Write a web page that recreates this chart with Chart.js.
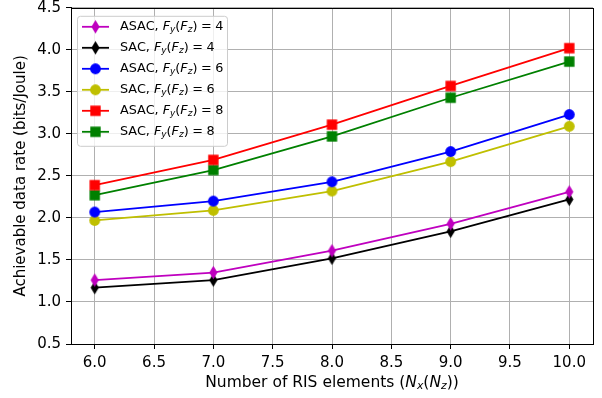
<!DOCTYPE html>
<html>
<head>
<meta charset="utf-8">
<script src="https://cdn.jsdelivr.net/npm/chart.js@4"></script>
<style>
  html, body { margin: 0; padding: 0; background: #fff; }
  #wrap { width: 602px; height: 398px; }
</style>
</head>
<body>
<div id="wrap"><canvas id="rateChart" width="602" height="398"></canvas></div>
<script>
// values
const ris_elements = [6, 7, 8, 9, 10];
const asac_f4 = [1.26, 1.35, 1.61, 1.93, 2.31];
const sac_f4  = [1.17, 1.26, 1.52, 1.84, 2.22];
const asac_f6 = [2.07, 2.20, 2.43, 2.79, 3.23];
const sac_f6  = [1.97, 2.09, 2.32, 2.67, 3.09];
const asac_f8 = [2.39, 2.69, 3.11, 3.57, 4.02];
const sac_f8  = [2.27, 2.57, 2.97, 3.43, 3.86];
const x_ticks = [6, 6.5, 7, 7.5, 8, 8.5, 9, 9.5, 10];
const legend_names = ['ASAC', 'SAC', 'ASAC', 'SAC', 'ASAC', 'SAC'];
const legend_f = ['4', '4', '6', '6', '8', '8'];

const FONT = '"DejaVu Sans", sans-serif';

// marker images (matplotlib-like)
function makeMarker(kind, color) {
    const c = document.createElement('canvas');
    c.width = 15; c.height = 15;
    const g = c.getContext('2d');
    g.fillStyle = color;
    g.beginPath();
    if (kind === 'circle') {
        g.arc(7.5, 7.5, 5.4, 0, Math.PI * 2);
    } else if (kind === 'square') {
        g.rect(2.3, 2.3, 10.4, 10.4);
    } else {
        // thin diamond
        g.moveTo(7.5, 0.8);
        g.lineTo(11.6, 7.5);
        g.lineTo(7.5, 14.2);
        g.lineTo(3.4, 7.5);
        g.closePath();
    }
    g.fill();
    return c;
}

function toPoints(arr) {
    return arr.map((v, i) => ({ x: ris_elements[i], y: v }));
}

const seriesDefs = [
    { data: asac_f4, color: '#bf00bf', marker: 'diamond' },
    { data: sac_f4,  color: '#000000', marker: 'diamond' },
    { data: asac_f6, color: '#0000ff', marker: 'circle' },
    { data: sac_f6,  color: '#bfbf00', marker: 'circle' },
    { data: asac_f8, color: '#ff0000', marker: 'square' },
    { data: sac_f8,  color: '#008000', marker: 'square' }
];

const datasets = seriesDefs.map((s, i) => ({
    label: legend_names[i] + ', Fy(Fz) = ' + legend_f[i],
    data: toPoints(s.data),
    borderColor: s.color,
    backgroundColor: s.color,
    borderWidth: 1.8,
    pointStyle: makeMarker(s.marker, s.color),
    pointRadius: 6,
    pointHoverRadius: 6,
    tension: 0
}));

// draws mathtext-like "F_y(F_z)" pieces, returns end x
function drawMath(ctx, x, y, parts, size) {
    parts.forEach(p => {
        let fs = size, dy = 0;
        if (p.sub) { fs = size * 0.7; dy = size * 0.22; }
        ctx.font = (p.it ? 'italic ' : '') + fs + 'px ' + FONT;
        ctx.fillText(p.t, x, y + dy);
        x += ctx.measureText(p.t).width + (p.gap || 0);
    });
    return x;
}

function measureMath(ctx, parts, size) {
    let w = 0;
    parts.forEach(p => {
        const fs = p.sub ? size * 0.7 : size;
        ctx.font = (p.it ? 'italic ' : '') + fs + 'px ' + FONT;
        w += ctx.measureText(p.t).width + (p.gap || 0);
    });
    return w;
}

function noEdgePadding(scale) {
    scale.paddingTop = 0;
    scale.paddingBottom = 0;
    scale.paddingLeft = 0;
    scale.paddingRight = 0;
}

const framePlugin = {
    id: 'frame',
    afterDraw(chart) {
        const ctx = chart.ctx;
        const a = chart.chartArea;
        ctx.save();
        // box around the plot
        ctx.strokeStyle = '#000';
        ctx.lineWidth = 1;
        ctx.strokeRect(Math.round(a.left) + 0.5, Math.round(a.top) + 0.5,
                       Math.round(a.right - a.left), Math.round(a.bottom - a.top));

        // legend in upper left
        const lx = a.left + 6, ly = a.top + 8, lw = 150, lh = 130;
        ctx.fillStyle = 'rgba(255,255,255,0.8)';
        ctx.strokeStyle = '#cccccc';
        ctx.beginPath();
        ctx.roundRect(lx + 0.5, ly + 0.5, lw, lh, 3);
        ctx.fill();
        ctx.stroke();

        chart.data.datasets.forEach((ds, i) => {
            const yy = ly + 11 + i * 21;
            ctx.strokeStyle = ds.borderColor;
            ctx.lineWidth = 1.8;
            ctx.beginPath();
            ctx.moveTo(lx + 5, yy);
            ctx.lineTo(lx + 32, yy);
            ctx.stroke();
            const img = ds.pointStyle;
            ctx.drawImage(img, lx + 18.5 - img.width / 2, yy - img.height / 2);

            ctx.fillStyle = '#000';
            ctx.textBaseline = 'middle';
            ctx.textAlign = 'left';
            drawMath(ctx, lx + 43, yy, [
                { t: legend_names[i] + ', ' },
                { t: 'F', it: true },
                { t: 'y', it: true, sub: true },
                { t: '(' },
                { t: 'F', it: true },
                { t: 'z', it: true, sub: true },
                { t: ')', gap: 3.5 },
                { t: '=', gap: 3.5 },
                { t: legend_f[i] }
            ], 12.8);
        });

        // x axis title with subscripts
        const parts = [
            { t: 'Number of RIS elements (' },
            { t: 'N', it: true },
            { t: 'x', it: true, sub: true },
            { t: '(' },
            { t: 'N', it: true },
            { t: 'z', it: true, sub: true },
            { t: '))' }
        ];
        const w = measureMath(ctx, parts, 15.5);
        ctx.fillStyle = '#000';
        ctx.textBaseline = 'middle';
        drawMath(ctx, (a.left + a.right) / 2 - w / 2, 382.5, parts, 15.5);
        ctx.restore();
    }
};

const ctx = document.getElementById('rateChart').getContext('2d');
const rateChart = new Chart(ctx, {
    type: 'line',
    data: { datasets: datasets },
    options: {
        responsive: false,
        animation: false,
        layout: { padding: { left: 0, right: 9, top: 1, bottom: 0 } },
        plugins: {
            legend: { display: false },
            tooltip: { enabled: false }
        },
        scales: {
            x: {
                type: 'linear',
                min: 5.8,
                max: 10.2,
                afterBuildTicks: (scale) => {
                    scale.ticks = x_ticks.map(v => ({ value: v }));
                },
                afterFit: (scale) => { scale.height = 54; noEdgePadding(scale); },
                grid: { color: '#b0b0b0', tickColor: '#000', tickLength: 5 },
                border: { color: '#000' },
                ticks: {
                    color: '#000',
                    padding: 5,
                    maxRotation: 0,
                    font: { family: FONT, size: 15 },
                    callback: v => Number(v).toFixed(1)
                }
            },
            y: {
                min: 0.5,
                max: 4.5,
                afterFit: (scale) => { scale.width = 71; noEdgePadding(scale); },
                grid: { color: '#b0b0b0', tickColor: '#000', tickLength: 5 },
                border: { color: '#000' },
                ticks: {
                    color: '#000',
                    stepSize: 0.5,
                    padding: 5,
                    font: { family: FONT, size: 15 },
                    callback: v => Number(v).toFixed(1)
                },
                title: {
                    display: true,
                    text: 'Achievable data rate (bits/Joule)',
                    color: '#000',
                    font: { family: FONT, size: 15 },
                    padding: { top: 12, bottom: 0 }
                }
            }
        }
    },
    plugins: [framePlugin]
});
</script>
</body>
</html>
